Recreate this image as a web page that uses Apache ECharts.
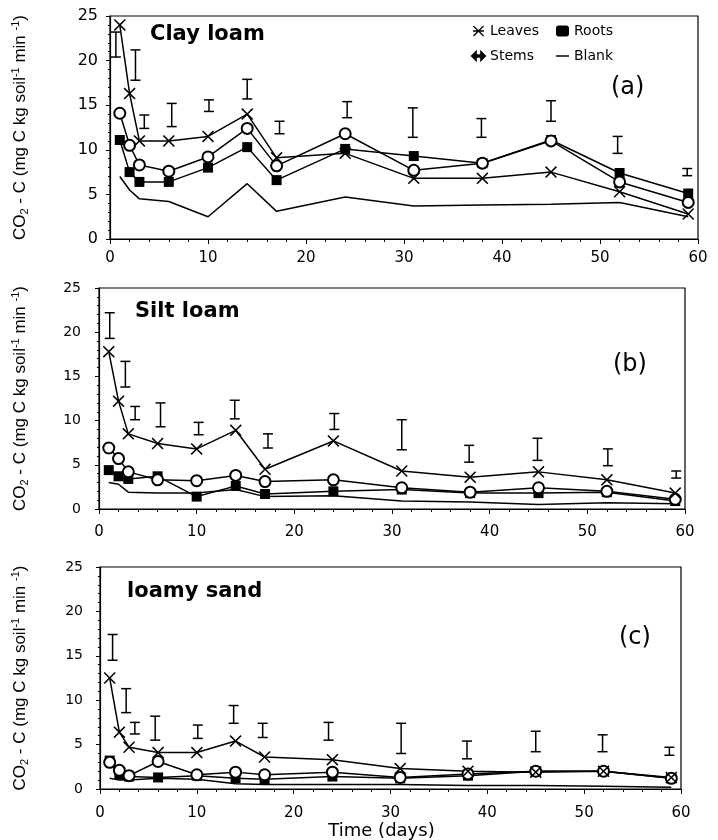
<!DOCTYPE html>
<html>
<head>
<meta charset="utf-8">
<script src="https://cdn.jsdelivr.net/npm/echarts@6/dist/echarts.min.js"></script>
<style>
html,body{margin:0;padding:0;background:#fff;}
#chart{width:718px;height:840px;}
</style>
</head>
<body>
<div id="chart"></div>
<script>
// ---- Data ----
var days = [1, 2, 3, 6, 10, 14, 17, 24, 31, 38, 45, 52, 59];

// (a) Clay loam
var leavesA = [24.0, 16.3, 11.0, 11.0, 11.5, 14.0, 9.1, 9.6, 6.8, 6.8, 7.5, 5.3, 2.8];
var stemsA  = [14.1, 10.5, 8.3, 7.6, 9.2, 12.4, 8.2, 11.8, 7.7, 8.5, 11.0, 6.4, 4.1];
var rootsA  = [11.1, 7.5, 6.4, 6.4, 8.0, 10.3, 6.6, 10.1, 9.3, 8.5, 11.1, 7.4, 5.1];
var blankA  = [7.0, 5.5, 4.5, 4.2, 2.5, 6.2, 3.1, 4.7, 3.7, 3.8, 3.9, 4.1, 2.5];
var errXA  = [0.6, 2.6, 3.5, 6.3, 10.1, 14.0, 17.3, 24.2, 30.9, 37.9, 45.0, 51.8, 58.9];
var errHiA = [23.2, 21.2, 13.9, 15.2, 15.6, 17.9, 13.2, 15.4, 14.7, 13.5, 15.5, 11.5, 7.9];
var errLoA = [20.4, 17.8, 12.4, 12.6, 14.3, 15.7, 11.8, 13.6, 11.4, 11.4, 13.2, 9.6, 7.1];

// (b) Silt loam
var leavesB = [17.8, 12.2, 8.5, 7.4, 6.8, 8.9, 4.5, 7.7, 4.3, 3.6, 4.2, 3.3, 1.8];
var stemsB  = [6.9, 5.7, 4.2, 3.3, 3.2, 3.8, 3.1, 3.3, 2.4, 1.9, 2.4, 2.0, 1.1];
var rootsB  = [4.4, 3.7, 3.4, 3.7, 1.4, 2.6, 1.7, 2.0, 2.2, 1.8, 1.8, 1.9, 0.9];
var blankB  = [3.0, 2.8, 1.9, 1.8, 1.8, 2.2, 1.4, 1.5, 0.9, 0.8, 0.5, 0.7, 0.6];
var errXB  = [1.1, 2.7, 3.7, 6.3, 10.2, 13.9, 17.3, 24.1, 31.0, 37.9, 44.9, 52.1, 59.1];
var errHiB = [22.2, 16.7, 11.6, 12.0, 9.8, 12.3, 8.5, 10.8, 10.1, 7.2, 8.0, 6.8, 4.3];
var errLoB = [19.3, 13.8, 10.1, 9.3, 8.4, 10.2, 6.9, 9.0, 6.7, 5.3, 5.5, 4.9, 3.5];

// (c) loamy sand
var leavesC = [12.5, 6.4, 4.7, 4.1, 4.1, 5.4, 3.6, 3.3, 2.3, 2.0, 1.9, 2.0, 1.3];
var stemsC  = [3.0, 2.1, 1.5, 3.1, 1.6, 1.9, 1.6, 1.9, 1.3, 1.7, 2.0, 2.0, 1.2];
var rootsC  = [3.2, 1.6, 1.4, 1.3, 1.5, 1.2, 1.1, 1.4, 1.2, 1.5, 2.0, 2.0, 1.2];
var blankC  = [1.2, 1.0, 1.0, 1.2, 1.1, 0.6, 0.5, 0.5, 0.5, 0.4, 0.4, 0.3, 0.2];
var errXC  = [1.3, 2.7, 3.6, 5.7, 10.1, 13.8, 16.8, 23.6, 31.1, 37.9, 45.0, 51.9, 58.8];
var errHiC = [17.4, 11.3, 7.5, 8.2, 7.2, 9.4, 7.4, 7.5, 7.4, 5.4, 6.5, 6.1, 4.7];
var errLoC = [14.5, 8.6, 6.2, 5.5, 5.7, 7.4, 5.8, 5.5, 4.0, 3.4, 4.2, 4.2, 3.8];

var panelNames = ['Clay loam', 'Silt loam', 'loamy sand'];
var panelTags = ['(a)', '(b)', '(c)'];
var xTicks = [0, 10, 20, 30, 40, 50, 60];
var yTicks = [0, 5, 10, 15, 20, 25];

// ---- Build ----
var panels = [
  {leaves: leavesA, stems: stemsA, roots: rootsA, blank: blankA, ex: errXA, hi: errHiA, lo: errLoA},
  {leaves: leavesB, stems: stemsB, roots: rootsB, blank: blankB, ex: errXB, hi: errHiB, lo: errLoB},
  {leaves: leavesC, stems: stemsC, roots: rootsC, blank: blankC, ex: errXC, hi: errHiC, lo: errLoC}
];
var grids = [
  {left: 110, top: 16, width: 588, height: 223},
  {left: 99, top: 288, width: 586, height: 221},
  {left: 100, top: 567, width: 581, height: 222}
];
var yLabelSize = [16, 14, 14];
var yLabelMargin = [12, 18, 17];
var xLabelMargin = [12, 16, 17];
var nameGaps = [80, 69, 70];

var xPath = 'path://M0 0.9L0.9 0L5 4.1L9.1 0L10 0.9L5.9 5L10 9.1L9.1 10L5 5.9L0.9 10L0 9.1L4.1 5Z';
var starIcon = 'path://M0 4.4H10V5.6H0ZM0.8 0L10 9.2L9.2 10L0 0.8ZM9.2 0L10 0.8L0.8 10L0 9.2Z';
var arrowIcon = 'path://M0 5L3.5 1.5V4.3H8.5V1.5L12 5L8.5 8.5V5.7H3.5V8.5Z';
var lineIcon = 'path://M0 0H14V1.6H0Z';

function pairs(arr) { return days.map(function (d, k) { return [d, arr[k]]; }); }

var xAxes = [], yAxes = [], series = [], titles = [];
var FONT = 'DejaVu Sans';

grids.forEach(function (g, i) {
  xAxes.push({
    gridIndex: i, type: 'value', min: xTicks[0], max: xTicks[xTicks.length - 1], interval: 10,
    axisLine: {lineStyle: {color: '#000', width: 1.2}},
    axisTick: {show: true, length: 5, lineStyle: {color: '#000'}},
    minorTick: {show: true, splitNumber: 5, length: 3, lineStyle: {color: '#000'}},
    splitLine: {show: false},
    axisLabel: {color: '#000', fontSize: 15, fontFamily: FONT, margin: xLabelMargin[i]},
    name: i === 2 ? 'Time (days)' : '',
    nameLocation: 'middle', nameGap: 29,
    nameTextStyle: {color: '#000', fontSize: 18, fontFamily: FONT, padding: [0, 18, 0, 0]}
  });
  yAxes.push({
    gridIndex: i, type: 'value', min: yTicks[0], max: yTicks[yTicks.length - 1], interval: 5,
    axisLine: {lineStyle: {color: '#000', width: 1.2}},
    axisTick: {show: true, length: 4, lineStyle: {color: '#000'}},
    minorTick: {show: true, splitNumber: 5, length: 2, lineStyle: {color: '#000'}},
    splitLine: {show: false},
    axisLabel: {color: '#000', fontSize: yLabelSize[i], fontFamily: FONT, margin: yLabelMargin[i]},
    name: '{a|CO}{s|2}{a| - C (mg C kg soil}{t|-1}{a| min }{t|-1}{a|)}',
    nameLocation: 'middle', nameRotate: 90, nameGap: nameGaps[i],
    nameTextStyle: {
      color: '#000',
      rich: {
        a: {fontSize: 17, fontFamily: 'Liberation Sans', color: '#000', lineHeight: 20},
        s: {fontSize: 11, fontFamily: 'Liberation Sans', color: '#000', lineHeight: 20, verticalAlign: 'bottom'},
        t: {fontSize: 11, fontFamily: 'Liberation Sans', color: '#000', lineHeight: 20, verticalAlign: 'top'}
      }
    }
  });
  var p = panels[i];
  var base = {type: 'line', xAxisIndex: i, yAxisIndex: i, lineStyle: {color: '#000', width: 1.5}, z: 3};
  series.push(Object.assign({}, base, {
    name: 'Blank', data: pairs(p.blank), symbol: 'none', showSymbol: false, itemStyle: {color: '#000'}
  }));
  series.push(Object.assign({}, base, {
    name: 'Roots', data: pairs(p.roots), symbol: 'rect', symbolSize: 10, itemStyle: {color: '#000'}
  }));
  series.push(Object.assign({}, base, {
    name: 'Stems', data: pairs(p.stems), symbol: 'emptyCircle', symbolSize: 11,
    itemStyle: {color: '#000', borderColor: '#000', borderWidth: 1.3}
  }));
  series.push(Object.assign({}, base, {
    name: 'Leaves', data: pairs(p.leaves), symbol: xPath, symbolSize: 12, itemStyle: {color: '#000'}
  }));
  series.push({
    type: 'custom', name: 'LSD', xAxisIndex: i, yAxisIndex: i, z: 4,
    data: p.ex.map(function (x, k) { return [x, p.lo[k], p.hi[k]]; }),
    renderItem: function (params, api) {
      var x = api.value(0);
      var top = api.coord([x, api.value(2)]);
      var bot = api.coord([x, api.value(1)]);
      var w = 5;
      var st = {stroke: '#000', lineWidth: 1.5, fill: null};
      return {
        type: 'group',
        children: [
          {type: 'line', shape: {x1: top[0], y1: top[1], x2: bot[0], y2: bot[1]}, style: st},
          {type: 'line', shape: {x1: top[0] - w, y1: top[1], x2: top[0] + w, y2: top[1]}, style: st},
          {type: 'line', shape: {x1: bot[0] - w, y1: bot[1], x2: bot[0] + w, y2: bot[1]}, style: st}
        ]
      };
    }
  });
});

var titleStyle = {fontFamily: FONT, fontSize: 21, fontWeight: 'bold', color: '#000'};
var tagStyle = {fontFamily: FONT, fontSize: 24, fontWeight: 'normal', color: '#000'};
titles = [
  {text: panelNames[0], left: 150, top: 24, padding: 0, textStyle: titleStyle},
  {text: panelNames[1], left: 135, top: 301, padding: 0, textStyle: titleStyle},
  {text: panelNames[2], left: 127, top: 581, padding: 0, textStyle: titleStyle},
  {text: panelTags[0], left: 611, top: 76, padding: 0, textStyle: tagStyle},
  {text: panelTags[1], left: 613, top: 353, padding: 0, textStyle: tagStyle},
  {text: panelTags[2], left: 619, top: 626, padding: 0, textStyle: tagStyle}
];

var legendText = {fontFamily: FONT, fontSize: 14, color: '#000'};
var option = {
  animation: false,
  backgroundColor: '#fff',
  title: titles,
  legend: [
    {orient: 'vertical', left: 471, top: 24, itemGap: 11, itemWidth: 13, itemHeight: 11, padding: 0,
     textStyle: legendText, selectedMode: false,
     data: [{name: 'Leaves', icon: starIcon}, {name: 'Stems', icon: arrowIcon}]},
    {orient: 'vertical', left: 556, top: 24, itemGap: 11, itemWidth: 13, itemHeight: 11, padding: 0,
     textStyle: legendText, selectedMode: false,
     data: [{name: 'Roots', icon: 'roundRect'}, {name: 'Blank', icon: lineIcon}]}
  ],
  grid: grids.map(function (g) {
    return Object.assign({show: true, borderColor: '#000', borderWidth: 1.2, backgroundColor: 'transparent',
      containLabel: false, outerBoundsMode: 'none'}, g);
  }),
  xAxis: xAxes,
  yAxis: yAxes,
  series: series
};

var chart = echarts.init(document.getElementById('chart'), null, {renderer: 'canvas'});
chart.setOption(option);
</script>
</body>
</html>
